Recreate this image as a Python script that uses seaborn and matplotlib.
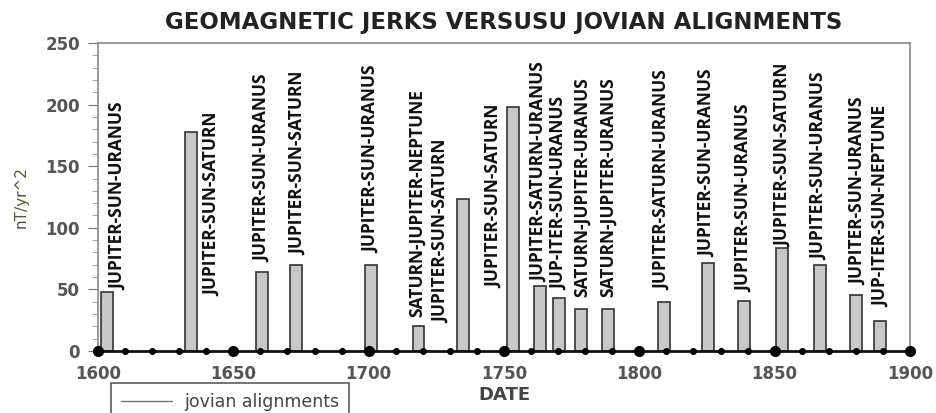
import numpy as np
import pandas as pd
import matplotlib.pyplot as plt
from matplotlib.lines import Line2D
import seaborn as sns

# ---- data ----
years = [1603.3, 1634.4, 1660.5, 1673.3, 1701.0, 1718.4, 1734.7, 1753.3, 1763.3, 1770.4,
         1778.5, 1788.5, 1809.0, 1825.5, 1838.5, 1852.6, 1866.7, 1880.0, 1889.0]
jerk = [47.6, 177.7, 64.3, 70.2, 69.7, 20.3, 123.2, 198.0, 52.7, 42.7,
        34.0, 34.0, 39.5, 71.6, 40.8, 83.7, 70.2, 45.4, 24.6]
names = ["JUPITER-SUN-URANUS", "JUPITER-SUN-SATURN", "JUPITER-SUN-URANUS", "JUPITER-SUN-SATURN",
         "JUPITER-SUN-URANUS", "SATURN-JUPITER-NEPTUNE", "JUPITER-SUN-SATURN", "JUPITER-SUN-SATURN",
         "JUPITER-SATURN-URANUS", "JUP-ITER-SUN-URANUS", "SATURN-JUPITER-URANUS",
         "SATURN-JUPITER-URANUS", "JUPITER-SATURN-URANUS", "JUPITER-SUN-URANUS",
         "JUPITER-SUN-URANUS", "JUPITER-SUN-SATURN", "JUPITER-SUN-URANUS", "JUPITER-SUN-URANUS",
         "JUP-ITER-SUN-NEPTUNE"]
# where each rotated label sits (year, bottom value)
label_year = [1607.4, 1642.2, 1660.5, 1674.0, 1701.0, 1718.0, 1726.7, 1746.3, 1763.0, 1770.4,
              1778.9, 1788.5, 1808.5, 1825.0, 1838.5, 1852.9, 1866.3, 1880.7, 1889.3]
label_base = [49.5, 45, 72, 78, 79.5, 27.5, 22.7, 51, 56, 49.5,
              44, 44, 49.5, 76, 48, 84.5, 74, 53.5, 35.6]
dot_years = np.arange(1600, 1901, 10)

df = pd.DataFrame({"year": years, "jerk": jerk})

sns.set_style("white")
plt.rcParams['font.family'] = ['DejaVu Sans']

fig = plt.figure(figsize=(9.37, 4.13), dpi=100)
ax = fig.add_axes([0.1046, 0.150, 0.8666, 0.746])

bar_w = 4.4
sns.barplot(data=df, x="year", y="jerk", native_scale=True,
            width=bar_w / np.min(np.diff(np.unique(years))),
            color="#c8c8c8", edgecolor="#333333", linewidth=1.2, saturation=1, ax=ax)

for x, y0, s in zip(label_year, label_base, names):
    ax.text(x, y0, s, rotation=90, ha='center', va='bottom',
            fontsize=12.5, fontweight='bold', family=['Open Sans', 'DejaVu Sans'], color='#111111')

# dots along the base line
big = dot_years % 50 == 0
ax.plot(dot_years[~big], np.zeros((~big).sum()), 'o', color='black', ms=4, clip_on=False, zorder=5)
ax.plot(dot_years[big], np.zeros(big.sum()), 'o', color='black', ms=7, clip_on=False, zorder=5)

ax.set_xlim(1600, 1900)
ax.set_ylim(0, 250)
ax.set_xticks(np.arange(1600, 1901, 50))
ax.set_yticks(np.arange(0, 251, 50))
ax.set_yticks(np.arange(0, 251, 10), minor=True)
ax.tick_params(axis='x', length=0, pad=10, labelsize=12, labelcolor='#555555')
ax.tick_params(axis='y', which='major', left=True, length=7, color='#777777',
               labelsize=12, labelcolor='#555555', pad=6)
ax.tick_params(axis='y', which='minor', left=True, length=4, color='#999999')
for lab in ax.get_xticklabels() + ax.get_yticklabels():
    lab.set_fontweight('bold')

for side in ['top', 'right', 'left']:
    ax.spines[side].set_color('#888888')
    ax.spines[side].set_linewidth(1.2)
ax.spines['bottom'].set_color('#111111')
ax.spines['bottom'].set_linewidth(2)

ax.set_xlabel("DATE", fontsize=13, fontweight='bold', color='#444444', labelpad=2)
ax.set_ylabel("nT/yr^2", fontsize=11, color='#555533', labelpad=12)
ax.set_title("GEOMAGNETIC JERKS VERSUSU JOVIAN ALIGNMENTS", fontsize=16.5, fontweight='bold',
             color='#222222', pad=10)

handle = Line2D([0], [0], color='#777777', lw=1)
leg = fig.legend([handle], ["jovian alignments"], loc='upper left',
                 bbox_to_anchor=(111 / 937, 1 - 383 / 413), borderaxespad=0,
                 frameon=True, fancybox=False, edgecolor='#333333', fontsize=12.5,
                 handlelength=2.9, handletextpad=0.7, borderpad=0.6, labelcolor='#444444')
leg.get_frame().set_linewidth(1.2)

fig.savefig("out.png", dpi=100)
